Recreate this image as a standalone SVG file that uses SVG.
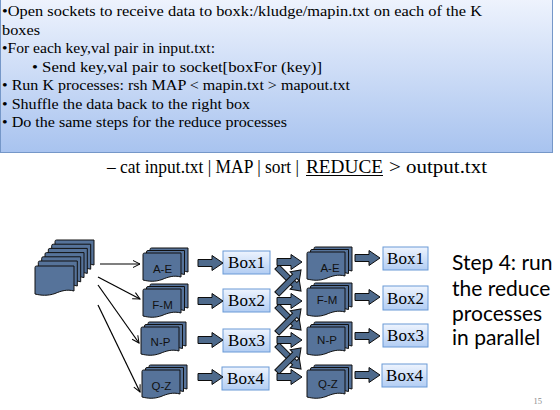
<svg xmlns="http://www.w3.org/2000/svg" xmlns:xlink="http://www.w3.org/1999/xlink" width="560" height="410" viewBox="0 0 560 410">
<defs>
<linearGradient id="gTop" x1="0" y1="0" x2="0" y2="1">
<stop offset="0" stop-color="#eef3fd"/>
<stop offset="1" stop-color="#a8c3ef"/>
</linearGradient>
<linearGradient id="gBox" x1="0" y1="0" x2="0" y2="1">
<stop offset="0" stop-color="#eef4fe"/>
<stop offset="1" stop-color="#b2cdf3"/>
</linearGradient>
<path id="page" d="M0,1.5 Q0,0 1.5,0 H38 V24 C31,22 25,24 19,26.5 C12,29 6,28.5 0,27 Z"/>
<path id="bigpage" d="M0,1.5 Q0,0 1.5,0 H39 V25 C32,23 26,25 20,27.5 C13,30 6,29.5 0,28 Z"/>
<path id="barrow" d="M0,-3.5 H14 V-7.5 L25,0 L14,7.5 V3.5 H0 Z"/>
<path id="darrow" d="M0,-3 H25 V-6.5 L34,0 L25,6.5 V3 H0 Z"/>
<marker id="vhead" markerUnits="userSpaceOnUse" markerWidth="9" markerHeight="9" refX="7" refY="3.5" orient="auto" overflow="visible">
<path d="M0,0 L7,3.5 L0,7" fill="none" stroke="#000" stroke-width="1"/>
</marker>
</defs>
<style>
.note{font-family:"Liberation Serif",serif;font-size:15px;fill:#000}
.cmd{font-family:"Liberation Serif",serif;font-size:19.5px;fill:#000}
.doc{fill:#56739a;stroke:#111;stroke-width:1}
.lbl{font-family:"Liberation Sans",sans-serif;font-size:11.5px;fill:#111;text-anchor:middle}
.box{fill:url(#gBox);stroke:#6a9ad6;stroke-width:1}
.boxt{font-family:"Liberation Serif",serif;font-size:17px;fill:#000;text-anchor:middle}
.blk{fill:#4e6a8c;stroke:#0d0d0d;stroke-width:1}
.thin{stroke:#000;stroke-width:1.2;fill:none;marker-end:url(#vhead)}
.step{font-family:Lato,"Liberation Sans",sans-serif;font-size:21px;fill:#000}
</style>

<g id="note">
<rect x="0.5" y="-1" width="552" height="153.5" fill="url(#gTop)" stroke="#7597c8" stroke-width="1"/>
<text class="note" x="2" y="16" textLength="480" lengthAdjust="spacingAndGlyphs">•Open sockets to receive data to boxk:/kludge/mapin.txt on each of the K</text>
<text class="note" x="2" y="34.5" textLength="38" lengthAdjust="spacingAndGlyphs">boxes</text>
<text class="note" x="2" y="53" textLength="213" lengthAdjust="spacingAndGlyphs">•For each key,val pair in input.txt:</text>
<text class="note" x="32" y="71.5" textLength="290" lengthAdjust="spacingAndGlyphs">• Send key,val pair to socket[boxFor (key)]</text>
<text class="note" x="2" y="90" textLength="348" lengthAdjust="spacingAndGlyphs">• Run K processes: rsh MAP &lt; mapin.txt &gt; mapout.txt</text>
<text class="note" x="2" y="108.5" textLength="248" lengthAdjust="spacingAndGlyphs">• Shuffle the data back to the right box</text>
<text class="note" x="2" y="127" textLength="285" lengthAdjust="spacingAndGlyphs">• Do the same steps for the reduce processes</text>
</g>

<g id="command">
<text class="cmd" x="107" y="173" style="font-size:18px" textLength="192" lengthAdjust="spacingAndGlyphs">– cat input.txt | MAP | sort |</text>
<text class="cmd" x="306" y="173" textLength="77" lengthAdjust="spacingAndGlyphs">REDUCE</text>
<line x1="306" y1="175.5" x2="383" y2="175.5" stroke="#000" stroke-width="1.2"/>
<text class="cmd" x="389" y="173" textLength="98" lengthAdjust="spacingAndGlyphs">&gt; output.txt</text>
</g>

<g id="input-stack">
<use href="#bigpage" x="55" y="240" class="doc"/>
<use href="#bigpage" x="51.7" y="244.2" class="doc"/>
<use href="#bigpage" x="48.3" y="248.4" class="doc"/>
<use href="#bigpage" x="45" y="252.6" class="doc"/>
<use href="#bigpage" x="41.7" y="256.8" class="doc"/>
<use href="#bigpage" x="38.3" y="261" class="doc"/>
<use href="#bigpage" x="35" y="266" class="doc"/>
</g>

<g id="map-ae">
<use href="#page" x="150" y="248" class="doc"/>
<use href="#page" x="146.5" y="250.5" class="doc"/>
<use href="#page" x="143" y="253" class="doc"/>
<text class="lbl" x="162.5" y="273">A-E</text>
</g>
<g id="map-fm">
<use href="#page" x="150" y="284" class="doc"/>
<use href="#page" x="146.5" y="286.5" class="doc"/>
<use href="#page" x="143" y="289" class="doc"/>
<text class="lbl" x="162.5" y="309">F-M</text>
</g>
<g id="map-np">
<use href="#page" x="148" y="322" class="doc"/>
<use href="#page" x="144.5" y="324.5" class="doc"/>
<use href="#page" x="141" y="327" class="doc"/>
<text class="lbl" x="160.5" y="346">N-P</text>
</g>
<g id="map-qz">
<use href="#page" x="149" y="365" class="doc"/>
<use href="#page" x="145.5" y="367.5" class="doc"/>
<use href="#page" x="142" y="370" class="doc"/>
<text class="lbl" x="161.5" y="390">Q-Z</text>
</g>

<g id="box1-left"><rect class="box" x="223" y="251" width="47" height="23"/><text class="boxt" x="246.5" y="268">Box1</text></g>
<g id="box2-left"><rect class="box" x="223" y="289" width="47" height="23"/><text class="boxt" x="246.5" y="306">Box2</text></g>
<g id="box3-left"><rect class="box" x="223" y="329" width="47" height="23"/><text class="boxt" x="246.5" y="346">Box3</text></g>
<g id="box4-left"><rect class="box" x="222" y="367" width="47" height="23"/><text class="boxt" x="245.5" y="384">Box4</text></g>

<g id="red-ae">
<use href="#page" x="314" y="247" class="doc"/>
<use href="#page" x="310.5" y="249.5" class="doc"/>
<use href="#page" x="307" y="252" class="doc"/>
<text class="lbl" x="330" y="272">A-E</text>
</g>
<g id="red-fm">
<use href="#page" x="314" y="283" class="doc"/>
<use href="#page" x="310.5" y="285.5" class="doc"/>
<use href="#page" x="307" y="288" class="doc"/>
<text class="lbl" x="327" y="304">F-M</text>
</g>
<g id="red-np">
<use href="#page" x="314" y="322" class="doc"/>
<use href="#page" x="310.5" y="324.5" class="doc"/>
<use href="#page" x="307" y="327" class="doc"/>
<text class="lbl" x="327" y="344">N-P</text>
</g>
<g id="red-qz">
<use href="#page" x="314" y="365" class="doc"/>
<use href="#page" x="310.5" y="367.5" class="doc"/>
<use href="#page" x="307" y="370" class="doc"/>
<text class="lbl" x="328" y="388">Q-Z</text>
</g>

<g id="box1-right"><rect class="box" x="383" y="247" width="45" height="23"/><text class="boxt" x="405.5" y="264">Box1</text></g>
<g id="box2-right"><rect class="box" x="383" y="286" width="45" height="24"/><text class="boxt" x="405.5" y="304">Box2</text></g>
<g id="box3-right"><rect class="box" x="383" y="324" width="45" height="23"/><text class="boxt" x="405.5" y="341">Box3</text></g>
<g id="box4-right"><rect class="box" x="382" y="364" width="45" height="23"/><text class="boxt" x="404.5" y="381">Box4</text></g>

<g id="step-label">
<text class="step" x="452" y="270">Step 4: run</text>
<text class="step" x="452" y="296">the reduce</text>
<text class="step" x="452" y="321">processes</text>
<text class="step" x="452" y="345">in parallel</text>
</g>

<g id="connectors">
<line class="thin" x1="100" y1="264" x2="140" y2="264"/>
<line class="thin" x1="98" y1="277" x2="140" y2="299"/>
<line class="thin" x1="98" y1="285" x2="139" y2="343"/>
<line class="thin" x1="98" y1="305" x2="140" y2="392"/>

<use href="#barrow" class="blk" transform="translate(198,263)"/>
<use href="#barrow" class="blk" transform="translate(198,301)"/>
<use href="#barrow" class="blk" transform="translate(198,340)"/>
<use href="#barrow" class="blk" transform="translate(198,377)"/>

<use href="#darrow" class="blk" transform="translate(277,267) rotate(45)"/>
<use href="#darrow" class="blk" transform="translate(277,294) rotate(-45)"/>
<use href="#darrow" class="blk" transform="translate(277,306) rotate(45)"/>
<use href="#darrow" class="blk" transform="translate(277,333) rotate(-45)"/>
<use href="#darrow" class="blk" transform="translate(277,345) rotate(45)"/>
<use href="#darrow" class="blk" transform="translate(277,372) rotate(-45)"/>

<use href="#barrow" class="blk" transform="translate(277,262)"/>
<use href="#barrow" class="blk" transform="translate(277,301)"/>
<use href="#barrow" class="blk" transform="translate(277,340)"/>
<use href="#barrow" class="blk" transform="translate(277,377)"/>

<use href="#barrow" class="blk" transform="translate(355,258)"/>
<use href="#barrow" class="blk" transform="translate(355,297)"/>
<use href="#barrow" class="blk" transform="translate(355,336)"/>
<use href="#barrow" class="blk" transform="translate(355,375)"/>
</g>

<text x="542" y="404" font-family="Liberation Serif, serif" font-size="8.5" fill="#8c8c8c" text-anchor="end">15</text>
</svg>
